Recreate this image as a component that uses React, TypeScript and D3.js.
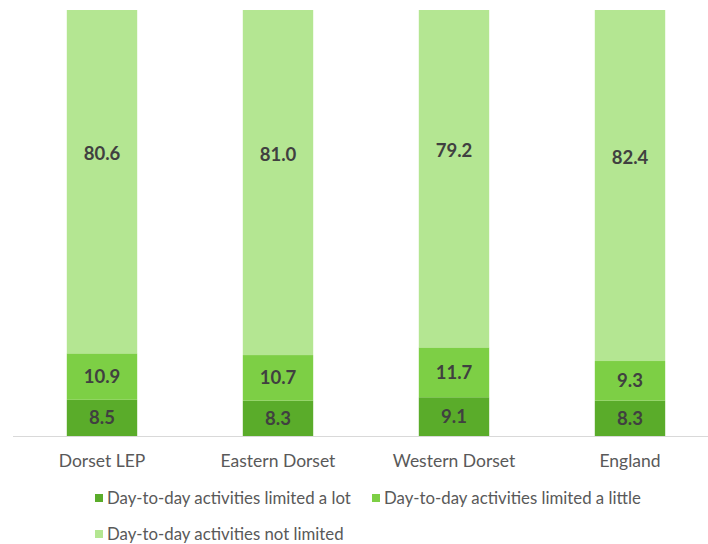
import React from "react";
import * as d3 from "d3";

const categories = ["Dorset LEP", "Eastern Dorset", "Western Dorset", "England"];
const limitedLot = [8.5, 8.3, 9.1, 8.3];
const limitedLittle = [10.9, 10.7, 11.7, 9.3];
const notLimited = [80.6, 81.0, 79.2, 82.4];
const seriesNames = [
  "Day-to-day activities limited a lot",
  "Day-to-day activities limited a little",
  "Day-to-day activities not limited",
];
const colors = ["#5aac2a", "#7dcf45", "#b4e692"];

const W = 708;
const H = 544;
const FONT = "Lato, 'Open Sans', sans-serif";

export default function App() {
  const rows = categories.map((c, i) => ({
    cat: c,
    s0: limitedLot[i],
    s1: limitedLittle[i],
    s2: notLimited[i],
  }));
  const stack = d3.stack<any>().keys(["s0", "s1", "s2"]);
  const series = stack(rows);

  const x = d3.scaleBand().domain(categories).range([14, 718]).paddingInner(0.6).paddingOuter(0.3);
  const y = d3.scaleLinear().domain([0, 100]).range([436, 10]);
  // Excel places the top label centered on the (unclipped) segment extent
  const labelTop = 113;

  return (
    <svg width={W} height={H} style={{ position: "absolute", left: 0, top: 0 }}>
      <rect width={W} height={H} fill="#fff" />
      {series.map((s, si) => (
        <g key={si}>
          {s.map((d, i) => {
            const x0 = x(categories[i])!;
            const yTop = y(d[1]);
            const yBot = y(d[0]);
            const lv = si === 2 ? (d[0] + labelTop) / 2 : (d[0] + d[1]) / 2;
            return (
              <g key={i}>
                <rect x={x0} y={yTop} width={x.bandwidth()} height={yBot - yTop} fill={colors[si]} />
                <text
                  x={x0 + x.bandwidth() / 2}
                  y={y(lv)}
                  dy="0.35em"
                  textAnchor="middle"
                  fontFamily={FONT}
                  fontWeight="bold"
                  fontSize={18.5}
                  fill="#404040"
                >
                  {(d[1] - d[0]).toFixed(1)}
                </text>
              </g>
            );
          })}
        </g>
      ))}
      <line x1={13} x2={708} y1={y(0) + 0.5} y2={y(0) + 0.5} stroke="#d9d9d9" strokeWidth={1} />
      {categories.map((c) => (
        <text
          key={c}
          x={x(c)! + x.bandwidth() / 2}
          y={461}
          dy="0.35em"
          textAnchor="middle"
          fontFamily={FONT}
          fontSize={17.5}
          fill="#595959"
        >
          {c}
        </text>
      ))}
      {[
        { i: 0, lx: 95, ly: 498 },
        { i: 1, lx: 372, ly: 498 },
        { i: 2, lx: 95, ly: 534 },
      ].map(({ i, lx, ly }) => (
        <g key={i}>
          <rect x={lx} y={ly - 4} width={8} height={8} fill={colors[i]} />
          <text x={lx + 12} y={ly} dy="0.35em" fontFamily={FONT} fontSize={16.8} fill="#595959">
            {seriesNames[i]}
          </text>
        </g>
      ))}
    </svg>
  );
}
